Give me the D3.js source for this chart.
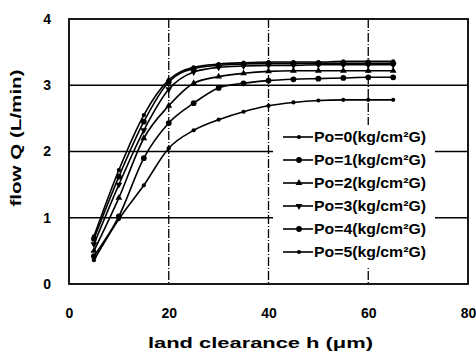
<!DOCTYPE html>
<html><head><meta charset="utf-8">
<script src="https://cdn.jsdelivr.net/npm/d3@7"></script>
<style>body{margin:0;background:#fff}svg{display:block}text{font-family:"Liberation Sans",Arial,sans-serif;fill:#000}</style>
</head><body><svg id="c" width="476" height="353"></svg>
<script>
const xValues = [5,10,15,20,25,30,35,40,45,50,55,60,65];
const seriesNames = ["Po=0(kg/cm²G)","Po=1(kg/cm²G)","Po=2(kg/cm²G)","Po=3(kg/cm²G)","Po=4(kg/cm²G)","Po=5(kg/cm²G)"];
const po0 = [0.36,0.98,1.49,2.05,2.32,2.48,2.60,2.69,2.74,2.77,2.78,2.78,2.78];
const po1 = [0.42,1.02,1.90,2.43,2.73,2.96,3.03,3.07,3.09,3.10,3.11,3.12,3.12];
const po2 = [0.50,1.30,2.20,2.69,3.03,3.13,3.18,3.21,3.22,3.22,3.22,3.22,3.22];
const po3 = [0.60,1.50,2.32,2.94,3.20,3.27,3.29,3.30,3.30,3.31,3.31,3.31,3.31];
const po4 = [0.68,1.62,2.45,3.05,3.25,3.30,3.32,3.33,3.33,3.33,3.33,3.33,3.33];
const po5 = [0.72,1.72,2.55,3.08,3.27,3.32,3.34,3.35,3.35,3.35,3.36,3.36,3.36];
const seriesValues = [po0,po1,po2,po3,po4,po5];
const xTicks = [0,20,40,60,80];
const yTicks = [0,1,2,3,4];
const xTitle = "land clearance h (μm)";
const yTitle = "flow Q (L/min)";

const svg = d3.select("#c");
const L=69, R=468, T=19, B=284;
const x = d3.scaleLinear().domain([0,80]).range([L,R]);
const y = d3.scaleLinear().domain([0,4]).range([B,T]);
const markers = [d3.symbolCircle,d3.symbolCircle,d3.symbolTriangle,d3.symbolTriangle,d3.symbolCircle,d3.symbolCircle];
const msize = [14,26,20,20,26,14];
const mrot = [0,0,0,180,0,0];

// grid
const g = svg.append("g");
g.selectAll(".hg").data([1,2,3]).join("line")
  .attr("x1",L).attr("x2",R).attr("y1",d=>y(d)).attr("y2",d=>y(d))
  .attr("stroke","#000").attr("stroke-width",1.4);
g.selectAll(".vg").data([20,40,60]).join("line")
  .attr("x1",d=>x(d)).attr("x2",d=>x(d)).attr("y1",T).attr("y2",B)
  .attr("stroke","#000").attr("stroke-width",1.3).attr("stroke-dasharray","9,2,1,2");

// axes (labels only)
const xa = svg.append("g").attr("transform",`translate(0,${B})`)
  .call(d3.axisBottom(x).tickValues(xTicks).tickFormat(d3.format("d")).tickSize(0).tickPadding(24));
xa.select(".domain").remove();
xa.selectAll("text").attr("font-size",14).attr("font-weight","bold").attr("font-family","Liberation Sans, Arial, sans-serif").attr("fill","#000");
const ya = svg.append("g").attr("transform",`translate(${L},0)`)
  .call(d3.axisLeft(y).tickValues(yTicks).tickFormat(d3.format("d")).tickSize(0).tickPadding(18));
ya.select(".domain").remove();
ya.selectAll("text").attr("font-size",14).attr("font-weight","bold").attr("font-family","Liberation Sans, Arial, sans-serif").attr("fill","#000");

// lines
const line = d3.line().x((d,i)=>x(xValues[i])).y(d=>y(d)).curve(d3.curveMonotoneX);
seriesValues.forEach((vals,s)=>{
  svg.append("path").datum(vals).attr("d",line).attr("fill","none").attr("stroke","#000").attr("stroke-width",1.6);
  svg.append("g").selectAll("path").data(vals).join("path")
    .attr("d",d3.symbol().type(markers[s]).size(msize[s]))
    .attr("transform",(d,i)=>`translate(${x(xValues[i])},${y(d)}) rotate(${mrot[s]})`)
    .attr("fill","#000");
});

// legend
const lg = svg.append("g");
lg.append("rect").attr("x",273).attr("y",125).attr("width",162).attr("height",142).attr("fill","#fff");
seriesNames.forEach((name,s)=>{
  const yy = 137 + s*23;
  lg.append("line").attr("x1",283).attr("x2",313).attr("y1",yy).attr("y2",yy).attr("stroke","#000").attr("stroke-width",1.6);
  lg.append("path").attr("d",d3.symbol().type(markers[s]).size(msize[s]))
    .attr("transform",`translate(299,${yy}) rotate(${mrot[s]})`).attr("fill","#000");
  lg.append("text").attr("x",314).attr("y",yy+5).attr("font-size",14).attr("font-weight","bold")
    .attr("textLength",112).attr("lengthAdjust","spacingAndGlyphs").text(name);
});

// frame
svg.append("rect").attr("x",L).attr("y",T).attr("width",R-L).attr("height",B-T)
  .attr("fill","none").attr("stroke","#000").attr("stroke-width",1.8);

// titles
svg.append("text").attr("x",(148+373)/2).attr("y",348).attr("text-anchor","middle")
  .attr("font-size",14).attr("font-weight","bold").attr("textLength",225).attr("lengthAdjust","spacingAndGlyphs").text(xTitle);
svg.append("text").attr("transform",`translate(21,138) rotate(-90)`).attr("text-anchor","middle")
  .attr("font-size",14).attr("font-weight","bold").attr("textLength",137).attr("lengthAdjust","spacingAndGlyphs").text(yTitle);
</script></body></html>
